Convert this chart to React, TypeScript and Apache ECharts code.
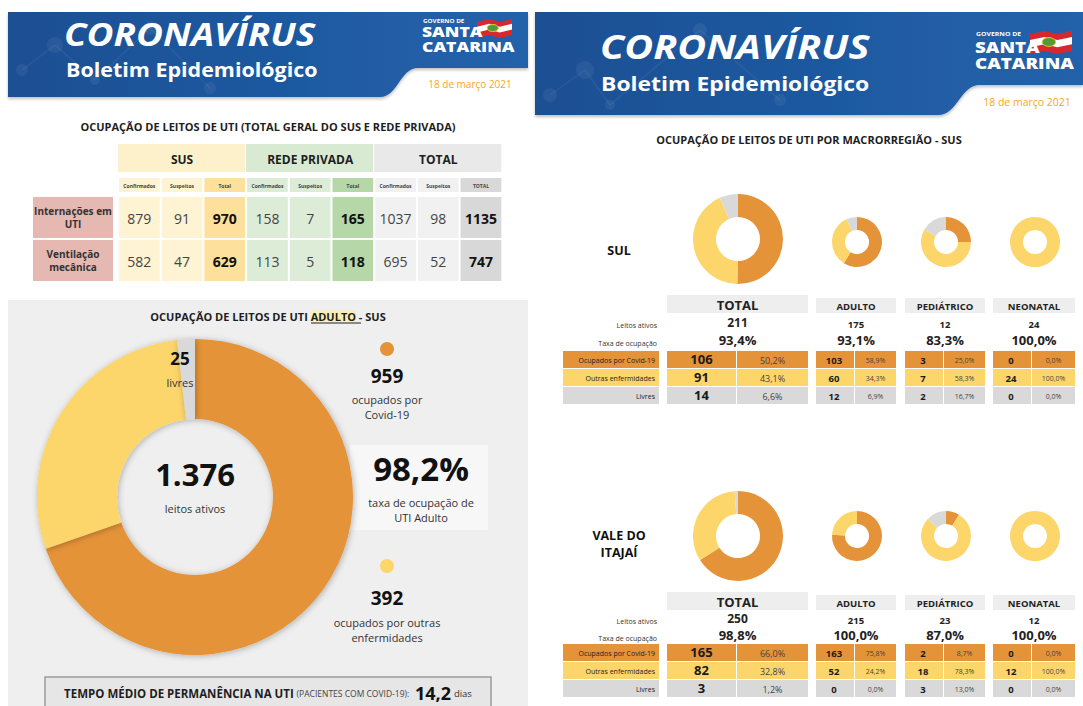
import React, { useEffect, useRef } from 'react';
import * as echarts from 'echarts';

const FONT = '"Open Sans", "Noto Sans", Arial, sans-serif';
const ORANGE = '#e59338';
const YELLOW = '#fcd66a';
const GRAY = '#d9d9d9';
const DATE_COLOR = '#f7a623';
const DARK = '#1e1e1e';

// ---- Table: UTI occupancy (SUS + rede privada) ----
const groupNames = ['SUS', 'REDE PRIVADA', 'TOTAL'];
const subColumns = ['Confirmados', 'Suspeitos', 'Total'];
const lastSubColumn = 'TOTAL';
const rowNames = ['Internações em\nUTI', 'Ventilação\nmecânica'];
const susValues = [[879, 91, 970], [582, 47, 629]];
const privateValues = [[158, 7, 165], [113, 5, 118]];
const totalValues = [[1037, 98, 1135], [695, 52, 747]];

// ---- UTI Adulto SUS ----
const adultNames = ['ocupados por Covid-19', 'ocupados por outras enfermidades', 'livres'];
const adultValues = [959, 392, 25];
const avgStayDays = '14,2';

// ---- Macrorregiões ----
const regionNames = ['SUL', 'VALE DO\nITAJAÍ'];
const bedTypes = ['TOTAL', 'ADULTO', 'PEDIÁTRICO', 'NEONATAL'];
const statusNames = ['Ocupados por Covid-19', 'Outras enfermidades', 'Livres'];
const sulCovid = [106, 103, 3, 0];
const sulOther = [91, 60, 7, 24];
const sulFree = [14, 12, 2, 0];
const valeCovid = [165, 163, 2, 0];
const valeOther = [82, 52, 18, 12];
const valeFree = [3, 0, 3, 0];

const dateText = '18 de março 2021';
const logoLines = ['GOVERNO DE', 'SANTA', 'CATARINA'];

echarts.graphic.registerShape(
  'bannerLeft',
  echarts.graphic.extendPath('M8 12 L528 12 L528 68 L418 68 C400 68 398 97 380 97 L8 97 Z', {})
);
echarts.graphic.registerShape(
  'bannerRight',
  echarts.graphic.extendPath('M535 12 L1083 12 L1083 85 L980 85 C960 85 958 115 938 115 L535 115 Z', {})
);

const fmtInt = (n: number) => String(n).replace(/\B(?=(\d{3})+(?!\d))/g, '.');
const fmtPct = (v: number, t: number) => (t ? (v / t) * 100 : 0).toFixed(1).replace('.', ',') + '%';

function buildOption() {
  const els: any[] = [];
  const rect = (x: number, y: number, w: number, h: number, fill: any, z = 0, extra: any = {}) =>
    els.push({ type: 'rect', z, shape: { x, y, width: w, height: h }, style: { fill, ...extra } });
  const text = (x: number, y: number, t: string, size: number, o: any = {}) =>
    els.push({
      type: 'text',
      z: o.z ?? 20,
      x,
      y,
      scaleX: o.scaleX ?? 1,
      style: {
        text: t,
        fill: o.color ?? DARK,
        fontSize: size,
        fontFamily: FONT,
        fontWeight: o.weight ?? 'normal',
        fontStyle: o.italic ? 'italic' : 'normal',
        align: o.align ?? 'center',
        verticalAlign: o.va ?? 'middle',
        lineHeight: o.lh,
        rich: o.rich,
      },
    });
  const flag = (x: number, y: number, w: number, h: number) => {
    const wave = (top: number, bot: number) => [
      [x, y + top + 2], [x + w * 0.35, y + top - 1], [x + w * 0.65, y + top + 2], [x + w, y + top - 1],
      [x + w, y + bot - 1], [x + w * 0.65, y + bot + 2], [x + w * 0.35, y + bot - 1], [x, y + bot + 2],
    ];
    els.push({ type: 'polygon', z: 5, shape: { points: wave(0, h) }, style: { fill: '#d7282f' } });
    els.push({ type: 'polygon', z: 6, shape: { points: wave(h * 0.3, h * 0.66) }, style: { fill: '#ffffff' } });
    els.push({ type: 'ellipse', z: 7, shape: { cx: x + w * 0.45, cy: y + h * 0.5, rx: w * 0.16, ry: h * 0.22 }, style: { fill: '#4f9a3c', stroke: '#f2c230', lineWidth: 1 } });
  };
  const logo = (x: number, ys: number[], small: number, big: number, sx: number) => {
    text(x + 1, ys[0], logoLines[0], small, { color: '#fff', weight: 'bold', align: 'left', scaleX: 1.15 });
    text(x, ys[1], logoLines[1], big, { color: '#fff', weight: 800, align: 'left', scaleX: sx });
    text(x, ys[2], logoLines[2], big, { color: '#fff', weight: 800, align: 'left', scaleX: sx });
  };
  const bannerFill = new echarts.graphic.LinearGradient(0, 0, 1, 0, [
    { offset: 0, color: '#1b4f93' },
    { offset: 1, color: '#2262ab' },
  ]);
  const deco = (pts: number[][]) => {
    for (let i = 0; i < pts.length; i++) {
      els.push({ type: 'circle', z: 1, shape: { cx: pts[i][0], cy: pts[i][1], r: pts[i][2] }, style: { fill: 'rgba(255,255,255,0.06)' } });
      if (i > 0)
        els.push({ type: 'line', z: 1, shape: { x1: pts[i - 1][0], y1: pts[i - 1][1], x2: pts[i][0], y2: pts[i][1] }, style: { stroke: 'rgba(255,255,255,0.06)', lineWidth: 1.5 } });
    }
  };

  // ===== LEFT PAGE =====
  els.push({ type: 'bannerLeft', z: 0, style: { fill: bannerFill, shadowBlur: 3, shadowColor: 'rgba(0,0,0,0.25)', shadowOffsetY: 2 } });
  deco([[22, 70, 6], [55, 45, 8], [95, 80, 5], [150, 28, 7], [210, 88, 6]]);
  text(64, 33.5, 'CORONAVÍRUS', 33, { color: '#fff', weight: 'bold', italic: true, align: 'left', scaleX: 1.12 });
  text(66, 69.5, 'Boletim Epidemiológico', 19, { color: '#fff', weight: 'bold', align: 'left', scaleX: 1.13 });
  logo(422, [21, 32, 47], 5.5, 13.5, 1.3);
  flag(477, 20, 35, 16);
  text(470, 84, dateText, 10, { color: DATE_COLOR });

  text(268, 126, 'OCUPAÇÃO DE LEITOS DE UTI (TOTAL GERAL DO SUS E REDE PRIVADA)', 11, { weight: 'bold' });

  const tX0 = 118;
  const colW = 42.7;
  const groupColors = [
    { head: '#fdf1cb', cell: '#fef3d2', total: '#fde09b' },
    { head: '#d9ead3', cell: '#ddecd7', total: '#b6d7a8' },
    { head: '#e9e9e9', cell: '#f1f1f1', total: '#d8d8d8' },
  ];
  const groupData = [susValues, privateValues, totalValues];
  const rowY = [197, 240];
  const rowH = 41;
  groupNames.forEach((gName, gi) => {
    const gx = tX0 + gi * 3 * colW;
    const gc = groupColors[gi];
    rect(gx, 144, 3 * colW - 1, 28, gc.head);
    text(gx + 1.5 * colW, 159, gName, 12, { weight: 'bold' });
    for (let ci = 0; ci < 3; ci++) {
      const cx = gx + ci * colW;
      const isTot = ci === 2;
      rect(cx + 1, 178, colW - 2, 14, isTot ? gc.total : gc.cell);
      const label = isTot && gi === 2 ? lastSubColumn : subColumns[ci];
      text(cx + colW / 2, 185.5, label, 5, { color: '#444', weight: 'bold' });
      rowY.forEach((ry, ri) => {
        rect(cx + 1, ry, colW - 2, rowH, isTot ? gc.total : gc.cell);
        text(cx + colW / 2, ry + rowH / 2 + 1, String(groupData[gi][ri][ci]), 14, {
          color: isTot ? '#111' : '#444',
          weight: isTot ? 'bold' : 'normal',
        });
      });
    }
  });
  rowNames.forEach((rn, ri) => {
    rect(33, rowY[ri], 80, rowH, '#e6b8b2');
    text(73, rowY[ri] + rowH / 2, rn, 10, { weight: 'bold', color: '#333', lh: 13 });
  });

  // Adult panel
  rect(8, 300, 520, 406, '#efefef');
  text(268, 316, '{a|OCUPAÇÃO DE LEITOS DE UTI }{b|ADULTO}{a| - SUS}', 11, {
    weight: 'bold',
    rich: {
      a: { fontSize: 11, fontWeight: 'bold', fontFamily: FONT, fill: DARK },
      b: { fontSize: 11, fontWeight: 'bold', fontFamily: FONT, fill: DARK, backgroundColor: '#fbeeb5' },
    },
  });
  els.push({ type: 'line', z: 21, shape: { x1: 311, y1: 323, x2: 361, y2: 323 }, style: { stroke: '#222', lineWidth: 1 } });

  const adultTotal = adultValues.reduce((a, b) => a + b, 0);
  text(195, 474, fmtInt(adultTotal), 31, { weight: 'bold', color: '#111' });
  text(195, 508, 'leitos ativos', 11, { color: '#333' });
  text(180, 358, String(adultValues[2]), 17, { weight: 'bold', color: '#111' });
  text(180, 382, adultNames[2], 11, { color: '#333' });

  els.push({ type: 'circle', z: 5, shape: { cx: 387, cy: 349, r: 7 }, style: { fill: ORANGE } });
  text(387, 376, String(adultValues[0]), 19, { weight: 'bold', color: '#111' });
  text(387, 407, 'ocupados por\nCovid-19', 11, { color: '#333', lh: 15 });

  rect(350, 445, 138, 85, '#f7f7f7', 1);
  text(421, 468, fmtPct(adultValues[0] + adultValues[1], adultTotal), 33, { weight: 'bold', color: '#111' });
  text(421, 510, 'taxa de ocupação de\nUTI Adulto', 11, { color: '#333', lh: 15 });

  els.push({ type: 'circle', z: 5, shape: { cx: 387, cy: 566, r: 7 }, style: { fill: YELLOW } });
  text(387, 598, String(adultValues[1]), 19, { weight: 'bold', color: '#111' });
  text(387, 630, 'ocupados por outras\nenfermidades', 11, { color: '#333', lh: 15 });

  rect(45, 677, 446, 34, '#e6e6e6', 1, { stroke: '#9c9c9c', lineWidth: 1.5 });
  text(268, 693, '{a|TEMPO MÉDIO DE PERMANÊNCIA NA UTI} {b|(PACIENTES COM COVID-19):}  {c|' + avgStayDays + '} {d|dias}', 11, {
    rich: {
      a: { fontSize: 11.5, fontWeight: 'bold', fontFamily: FONT, fill: DARK },
      b: { fontSize: 8.5, fontFamily: FONT, fill: '#444' },
      c: { fontSize: 18, fontWeight: 'bold', fontFamily: FONT, fill: '#111' },
      d: { fontSize: 9.5, fontFamily: FONT, fill: '#333' },
    },
  });

  // ===== RIGHT PAGE =====
  els.push({ type: 'bannerRight', z: 0, style: { fill: bannerFill, shadowBlur: 3, shadowColor: 'rgba(0,0,0,0.25)', shadowOffsetY: 2 } });
  deco([[550, 95, 7], [585, 70, 9], [610, 105, 5], [700, 30, 7], [780, 100, 6]]);
  text(600, 46, 'CORONAVÍRUS', 34, { color: '#fff', weight: 'bold', italic: true, align: 'left', scaleX: 1.165 });
  text(601, 83.5, 'Boletim Epidemiológico', 20, { color: '#fff', weight: 'bold', align: 'left', scaleX: 1.145 });
  logo(975, [34, 47, 63], 6, 15, 1.25);
  flag(1030, 32, 42, 20);
  text(1027, 102, dateText, 10.5, { color: DATE_COLOR });

  text(809, 139, 'OCUPAÇÃO DE LEITOS DE UTI POR MACRORREGIÃO - SUS', 11, { weight: 'bold' });

  const series: any[] = [];
  const donut = (cx: number, cy: number, rIn: number, rOut: number, values: number[], shadow: boolean) => {
    series.push({
      type: 'pie',
      silent: true,
      center: [cx, cy],
      radius: [rIn, rOut],
      startAngle: 90,
      clockwise: true,
      label: { show: false },
      labelLine: { show: false },
      emphasis: { disabled: true },
      itemStyle: shadow
        ? { borderWidth: 0, shadowBlur: 6, shadowColor: 'rgba(0,0,0,0.28)', shadowOffsetX: 1, shadowOffsetY: 1 }
        : { borderWidth: 0 },
      data: values.map((v, i) => ({ value: v, name: statusNames[i], itemStyle: { color: [ORANGE, YELLOW, GRAY][i] } })),
    });
  };
  donut(195, 497, 78, 158, adultValues, true);

  const sections = [
    { covid: sulCovid, other: sulOther, free: sulFree, labelY: 250, donutY: [239, 242], hdrY: 295, leitosY: 322, taxaY: 340, rowY: 351 },
    { covid: valeCovid, other: valeOther, free: valeFree, labelY: 544, donutY: [536, 536], hdrY: 592, leitosY: 618, taxaY: 635, rowY: 644 },
  ];
  const colSpan = [[667, 808], [816, 896], [905, 985], [993, 1075]];
  const donutX = [738, 857, 946, 1035];
  const rowColors = [ORANGE, YELLOW, GRAY];
  const rH = 18;

  sections.forEach((s, si) => {
    text(619, s.labelY, regionNames[si], 12.5, { weight: 'bold', color: '#111', lh: 17 });
    text(657, s.leitosY + 3, 'Leitos ativos', 7, { align: 'right', color: '#333' });
    text(657, s.taxaY + 3, 'Taxa de ocupação', 7, { align: 'right', color: '#333' });
    const rows = [s.covid, s.other, s.free];
    rows.forEach((_, ri) => {
      rect(563, s.rowY + ri * rH, 96, rH - 1, rowColors[ri]);
      text(655, s.rowY + ri * rH + rH / 2, statusNames[ri], 7, { align: 'right', color: '#222' });
    });
    bedTypes.forEach((bt, bi) => {
      const [x0, x1] = colSpan[bi];
      const big = bi === 0;
      const total = s.covid[bi] + s.other[bi] + s.free[bi];
      const vals = [s.covid[bi], s.other[bi], s.free[bi]];
      donut(donutX[bi], big ? s.donutY[0] : s.donutY[1], big ? 22 : 12, big ? 45 : 25, vals, false);
      const hy = big ? s.hdrY : s.hdrY + 3;
      rect(x0, hy, x1 - x0, s.hdrY + 18 - hy, '#eeeeee');
      text((x0 + x1) / 2, (hy + s.hdrY + 18) / 2 + 1, bt, big ? 13 : 9.5, { weight: 'bold', color: '#222' });
      text((x0 + x1) / 2, s.leitosY + (big ? 0 : 2), String(total), big ? 12 : 9.5, { weight: 'bold', color: '#222' });
      text((x0 + x1) / 2, s.taxaY, fmtPct(s.covid[bi] + s.other[bi], total), 13, { weight: 'bold', color: '#222' });
      const split = big ? 736 : x0 + 38;
      vals.forEach((v, ri) => {
        const y = s.rowY + ri * rH;
        rect(x0, y, split - x0, rH - 1, rowColors[ri]);
        rect(split + 1, y, x1 - split - 1, rH - 1, rowColors[ri]);
        text(big ? (x0 + split) / 2 : x0 + 18, y + rH / 2 - (big ? 1 : 0), String(v), big ? 13 : 9.5, { weight: 'bold', color: '#1a1a1a' });
        text((split + 1 + x1) / 2, y + rH / 2, fmtPct(v, total), big ? 9 : 7, { color: '#444' });
      });
    });
  });

  return {
    animation: false,
    backgroundColor: '#ffffff',
    graphic: { elements: els },
    series,
  };
}

export default function App() {
  const ref = useRef<HTMLDivElement>(null);
  useEffect(() => {
    if (!ref.current) return;
    const chart = echarts.init(ref.current, null, { renderer: 'svg' });
    chart.setOption(buildOption() as any);
    return () => chart.dispose();
  }, []);
  return <div ref={ref} style={{ position: 'absolute', left: 0, top: 0, width: 1083, height: 706 }} />;
}
